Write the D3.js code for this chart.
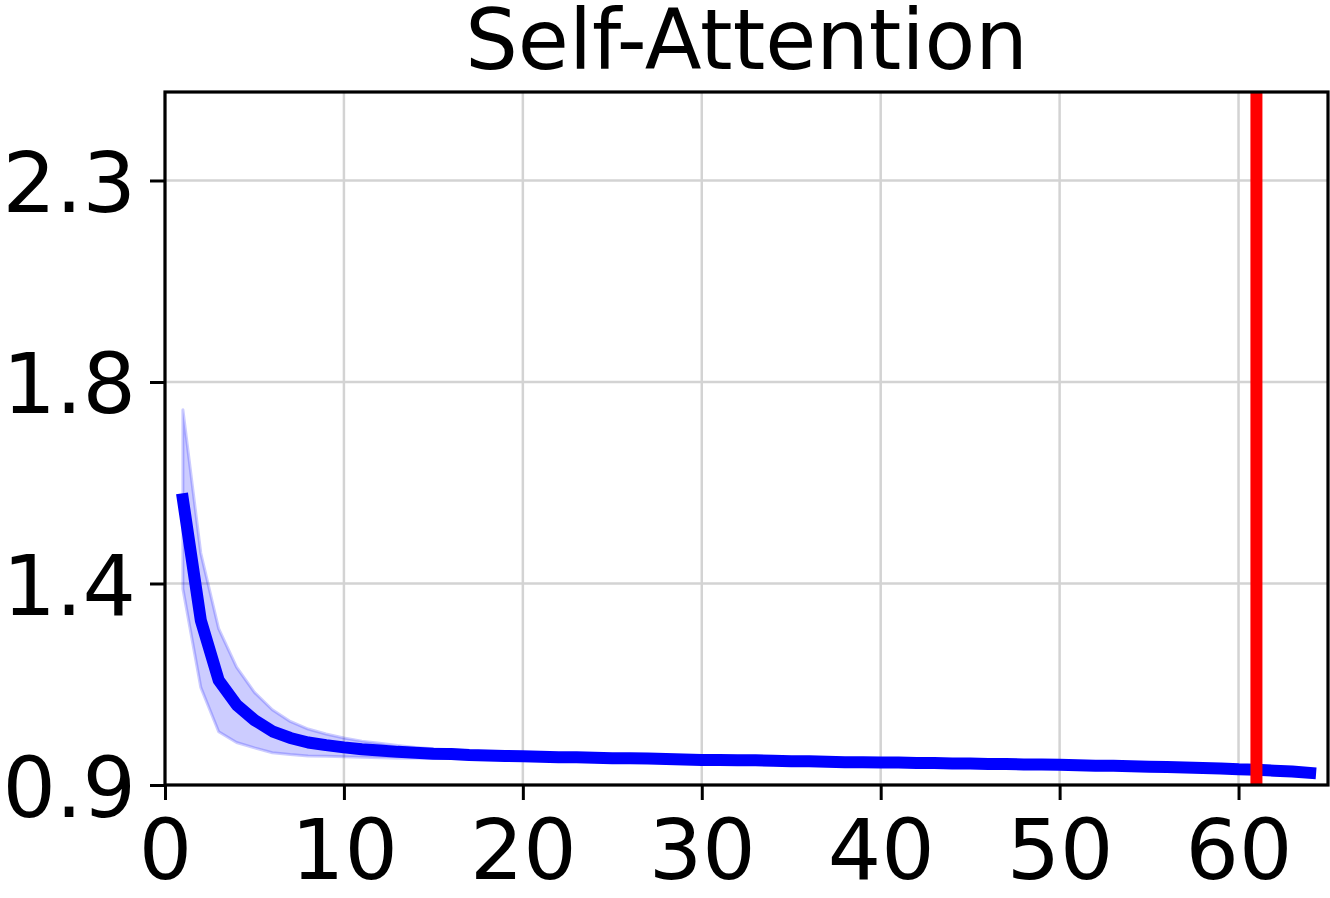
<!DOCTYPE html>
<html>
<head>
<meta charset="utf-8">
<script src="https://cdn.jsdelivr.net/npm/d3@7/dist/d3.min.js"></script>
<style>
  html, body { margin: 0; padding: 0; background: #fff; }
  svg { display: block; }
  text { font-family: "DejaVu Sans", sans-serif; fill: #000; }
</style>
</head>
<body>
<svg id="chart" width="1330" height="898"></svg>
<script>
// ---- data ----
const title = "Self-Attention";
const steps = d3.range(1, 65);
const meanLoss = [
  1.538, 1.268, 1.134, 1.079, 1.045, 1.020, 1.005, 0.995, 0.989, 0.984,
  0.980, 0.977, 0.974, 0.972, 0.970, 0.969, 0.967, 0.966, 0.965, 0.964,
  0.963, 0.962, 0.962, 0.961, 0.960, 0.960, 0.959, 0.958, 0.957, 0.956,
  0.956, 0.955, 0.955, 0.954, 0.953, 0.953, 0.952, 0.951, 0.951, 0.950,
  0.950, 0.949, 0.949, 0.948, 0.948, 0.947, 0.947, 0.946, 0.946, 0.945,
  0.944, 0.943, 0.943, 0.942, 0.941, 0.940, 0.939, 0.938, 0.937, 0.935,
  0.934, 0.932, 0.930, 0.927
];
const spread = [
  0.200, 0.150, 0.115, 0.084, 0.062, 0.048, 0.037, 0.030, 0.025, 0.021,
  0.018, 0.016, 0.014, 0.012, 0.011, 0.010, 0.009, 0.008, 0.008, 0.007,
  0.007, 0.006, 0.006, 0.006, 0.006, 0.005, 0.005, 0.005, 0.005, 0.005,
  0.005, 0.005, 0.005, 0.005, 0.005, 0.005, 0.005, 0.005, 0.005, 0.005,
  0.004, 0.004, 0.004, 0.004, 0.004, 0.004, 0.004, 0.004, 0.004, 0.004,
  0.004, 0.004, 0.004, 0.004, 0.004, 0.004, 0.004, 0.004, 0.004, 0.004,
  0.004, 0.004, 0.004, 0.004
];
const markerStep = 61;
const xTicks = [0, 10, 20, 30, 40, 50, 60];
const yTicks = [0.9, 1.35, 1.8, 2.25];
const yTickLabels = ["0.9", "1.4", "1.8", "2.3"];
const xDomain = [0, 65];
const yDomain = [0.9, 2.4476];

// ---- layout ----
const pL = 165, pR = 1328, pT = 92, pB = 785;
const svg = d3.select("#chart");
const x = d3.scaleLinear().domain(xDomain).range([pL, pR]);
const y = d3.scaleLinear().domain(yDomain).range([pB, pT]);

svg.append("defs").append("clipPath").attr("id", "clip")
  .append("rect").attr("x", pL).attr("y", pT)
  .attr("width", pR - pL).attr("height", pB - pT);

// grid
const grid = svg.append("g");
grid.selectAll(".gx").data(xTicks).enter().append("line")
  .attr("x1", d => x(d)).attr("x2", d => x(d))
  .attr("y1", pT).attr("y2", pB)
  .attr("stroke", "#d3d3d3").attr("stroke-width", 2.5);
grid.selectAll(".gy").data(yTicks).enter().append("line")
  .attr("x1", pL).attr("x2", pR)
  .attr("y1", d => y(d)).attr("y2", d => y(d))
  .attr("stroke", "#d3d3d3").attr("stroke-width", 2.5);

const rows = steps.map((s, i) => ({ s, m: meanLoss[i], lo: meanLoss[i] - spread[i], hi: meanLoss[i] + spread[i] }));

const plot = svg.append("g").attr("clip-path", "url(#clip)");
const area = d3.area().x(d => x(d.s)).y0(d => y(d.lo)).y1(d => y(d.hi));
plot.append("path").datum(rows).attr("d", area)
  .attr("fill", "rgba(0,0,255,0.2)")
  .attr("stroke", "rgba(0,0,255,0.2)").attr("stroke-width", 3)
  .attr("stroke-linejoin", "round");

const line = d3.line().x(d => x(d.s)).y(d => y(d.m));
plot.append("path").datum(rows).attr("d", line)
  .attr("fill", "none").attr("stroke", "#0000ff").attr("stroke-width", 12)
  .attr("stroke-linecap", "square").attr("stroke-linejoin", "round");

plot.append("line")
  .attr("x1", x(markerStep)).attr("x2", x(markerStep))
  .attr("y1", pT).attr("y2", pB)
  .attr("stroke", "#ff0000").attr("stroke-width", 12);

// axes
const xAxis = d3.axisBottom(x).tickValues(xTicks).tickSize(15).tickPadding(20).tickFormat(d3.format("d"));
const gx = svg.append("g").attr("transform", `translate(0,${pB})`).call(xAxis);
gx.select(".domain").remove();
gx.selectAll(".tick line").attr("stroke", "#000").attr("stroke-width", 3);
gx.selectAll(".tick text").attr("font-size", 84).attr("font-family", "DejaVu Sans").attr("dy", null)
  .attr("y", 94).attr("dominant-baseline", "alphabetic");

const yAxis = d3.axisLeft(y).tickValues(yTicks).tickSize(15).tickPadding(14)
  .tickFormat((d, i) => yTickLabels[i]);
const gy = svg.append("g").attr("transform", `translate(${pL},0)`).call(yAxis);
gy.select(".domain").remove();
gy.selectAll(".tick line").attr("stroke", "#000").attr("stroke-width", 3);
gy.selectAll(".tick text").attr("font-size", 84).attr("font-family", "DejaVu Sans")
  .attr("dy", null).attr("y", 31).attr("dominant-baseline", "alphabetic");

// frame
svg.append("rect").attr("x", pL).attr("y", pT)
  .attr("width", pR - pL).attr("height", pB - pT)
  .attr("fill", "none").attr("stroke", "#000").attr("stroke-width", 3.2);

// title
svg.append("text").attr("x", (pL + pR) / 2).attr("y", 69)
  .attr("text-anchor", "middle").attr("font-size", 83).text(title);
</script>
</body>
</html>
